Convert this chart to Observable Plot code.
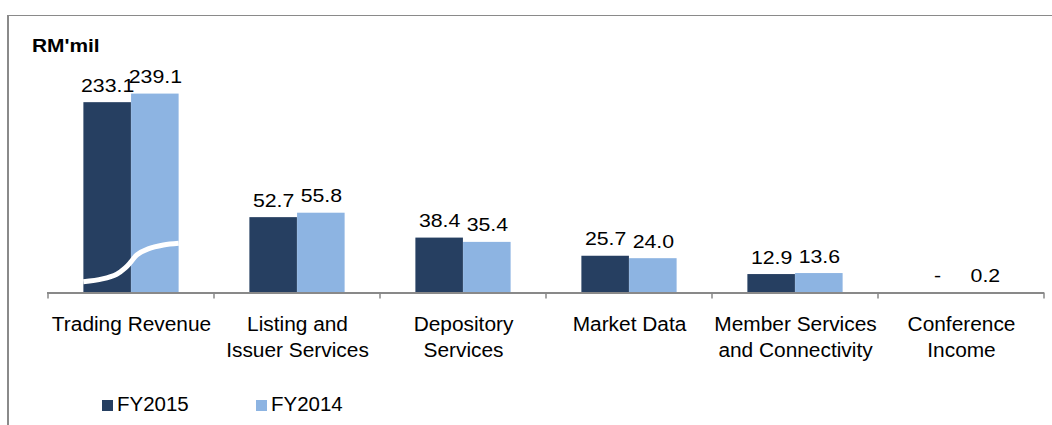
<!DOCTYPE html>
<html>
<head>
<meta charset="utf-8">
<script src="https://cdn.jsdelivr.net/npm/d3@7"></script>
<script src="https://cdn.jsdelivr.net/npm/@observablehq/plot@0.6"></script>
<style>
  html, body { margin: 0; padding: 0; background: #fff; }
  body { width: 1052px; height: 425px; position: relative; overflow: hidden;
         font-family: "Liberation Sans", Arial, Helvetica, sans-serif; color: #000; }
  #frame { position: absolute; left: 7px; top: 15px; width: 1050px; height: 420px;
           border-top: 1.5px solid #8a8a8a; border-left: 2px solid #8a8a8a; box-sizing: border-box; }
  #title { position: absolute; left: 32px; top: 36px; font-size: 19px; font-weight: bold; line-height: 1;
           transform: scaleX(1.1); transform-origin: left center; }
  #chart { position: absolute; left: 0; top: 56px; }
  #legend { position: absolute; left: 0; top: 0; }
  .sw { position: absolute; width: 11px; height: 11px; }
  .lt { position: absolute; font-size: 19.5px; line-height: 1; transform: scaleX(1.05); transform-origin: left center; }
</style>
</head>
<body>
<div id="frame"></div>
<div id="title">RM'mil</div>
<div id="chart"></div>
<div id="legend"></div>
<script>
// ---- data ----
const categories = ["Trading Revenue", "Listing and Issuer Services", "Depository Services",
                    "Market Data", "Member Services and Connectivity", "Conference Income"];
const categoryLabels = ["Trading Revenue", "Listing and\nIssuer Services", "Depository\nServices",
                        "Market Data", "Member Services\nand Connectivity", "Conference\nIncome"];
const series = ["FY2015", "FY2014"];
const fy2015 = [233.1, 52.7, 38.4, 25.7, 12.9, 0];
const fy2014 = [239.1, 55.8, 35.4, 24.0, 13.6, 0.2];
const brokenCategory = "Trading Revenue";
const axisBreak = 100;               // RM'mil removed by the broken axis on Trading Revenue
// break symbol: [fraction across the bar pair, value on the (broken) scale]
const breakCurve = [[0, 7.5], [0.2, 9.5], [0.35, 12.8], [0.44, 17.2], [0.5, 21.5], [0.56, 26.2],
                    [0.68, 30.5], [0.84, 33.2], [1, 34.4]];

// ---- style ----
const colors = ["#263F61", "#8DB4E2"];
const axisColor = "#898989";
const W = 1052, H = 300, mL = 47, mR = 8, mB = 63.5, mT = 7.7;
const barW = 47.7;
const bw = (W - mL - mR) / categories.length;
const half = bw / 2;

const rows = [];
categories.forEach((c, i) => {
  [fy2015, fy2014].forEach((arr, s) => {
    const v = arr[i];
    rows.push({category: c, label: categoryLabels[i], series: series[s], value: v,
               shown: c === brokenCategory ? v - axisBreak : v});
  });
});
const r15 = rows.filter(d => d.series === series[0]);
const r14 = rows.filter(d => d.series === series[1]);
const fmt = d => d.value === 0 ? "-" : d.value.toFixed(1);

function bandInfo(scales, dims) {
  const x = scales.x;
  let b = x.bandwidth;
  b = typeof b === "function" ? b() : (typeof b === "number" ? b : (dims.width - dims.marginLeft - dims.marginRight) / categories.length);
  return b;
}

function axisTicks(index, scales, values, dims) {
  const x = scales.x, y = scales.y, b = bandInfo(scales, dims);
  const y0 = y(0);
  const g = d3.create("svg:g").attr("stroke", axisColor).attr("stroke-width", 1.5);
  const xs = categories.map(c => x(c));
  xs.push(x(categories[categories.length - 1]) + b);
  xs.forEach(bx => g.append("line").attr("x1", bx).attr("x2", bx).attr("y1", y0).attr("y2", y0 + 6));
  return g.node();
}

function breakMark(index, scales, values, dims) {
  const x = scales.x, y = scales.y, b = bandInfo(scales, dims);
  const x0 = x(brokenCategory) + b / 2 - barW;
  const line = d3.line().x(p => x0 + p[0] * 2 * barW).y(p => y(p[1])).curve(d3.curveCatmullRom);
  return d3.create("svg:path").attr("d", line(breakCurve)).attr("fill", "none")
    .attr("stroke", "#fff").attr("stroke-width", 5).node();
}

const plot = Plot.plot({
  width: W, height: H,
  marginLeft: mL, marginRight: mR, marginTop: mT, marginBottom: mB,
  style: {fontFamily: "'Liberation Sans', Arial, sans-serif", background: "transparent", overflow: "visible"},
  x: {domain: categories, padding: 0, axis: null},
  y: {domain: [0, 160], axis: null},
  marks: [
    Plot.barY(r15, {x: "category", y: "shown", fill: colors[0], insetLeft: half - barW, insetRight: half}),
    Plot.barY(r14, {x: "category", y: "shown", fill: colors[1], insetLeft: half, insetRight: half - barW}),
    breakMark,
    Plot.ruleY([0], {stroke: axisColor, strokeWidth: 2}),
    axisTicks,
    Plot.text(r15, {x: "category", y: "shown", text: fmt, dx: -barW / 2, dy: -11, lineAnchor: "bottom",
                    fontSize: 19, fill: "#000", className: "vlab"}),
    Plot.text(r14, {x: "category", y: "shown", text: fmt, dx: barW / 2, dy: -11, lineAnchor: "bottom",
                    fontSize: 19, fill: "#000", className: "vlab"}),
    Plot.text(categories, {x: d => d, y: () => 0, text: (d, i) => categoryLabels[i], lineAnchor: "top",
                           dy: 20.3, fontSize: 19.5, lineHeight: 1.3, fill: "#000", className: "clab"})
  ]
});
document.getElementById("chart").appendChild(plot);

// widen the glyphs slightly, as in the reference rendering
function stretch(sel, k) {
  plot.querySelectorAll(sel).forEach(t => {
    const parts = t.querySelectorAll("tspan");
    (parts.length ? Array.from(parts) : [t]).forEach(el => {
      const len = el.getComputedTextLength();
      if (len > 0) { el.setAttribute("textLength", (len * k).toFixed(2)); el.setAttribute("lengthAdjust", "spacingAndGlyphs"); }
    });
  });
}
stretch(".vlab text", 1.12);
stretch(".clab text", 1.07);

// legend
const legend = document.getElementById("legend");
const swX = [102, 256], txX = [117, 271];
series.forEach((s, i) => {
  const sw = document.createElement("div");
  sw.className = "sw"; sw.style.left = swX[i] + "px"; sw.style.top = "400px"; sw.style.background = colors[i];
  legend.appendChild(sw);
  const t = document.createElement("div");
  t.className = "lt"; t.style.left = txX[i] + "px"; t.style.top = "395px"; t.textContent = s;
  legend.appendChild(t);
});
</script>
</body>
</html>
